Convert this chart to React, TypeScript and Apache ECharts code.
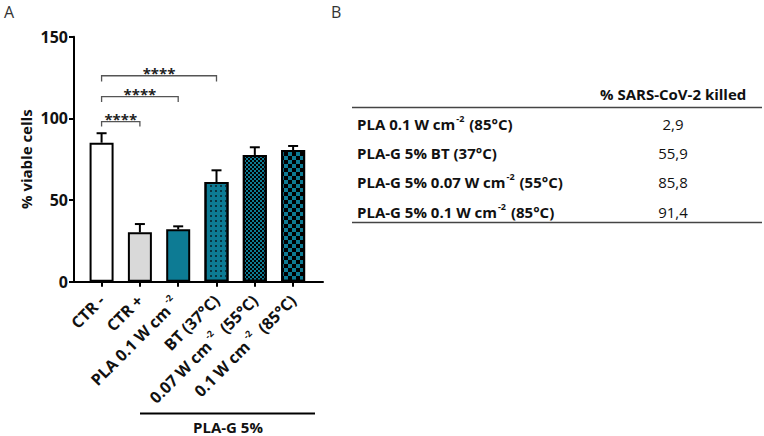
import React, { useEffect, useRef } from "react";
import * as echarts from "echarts";

const categories = ["CTR -", "CTR +", "PLA 0.1 W cm-2", "BT (37°C)", "0.07 W cm-2 (55°C)", "0.1 W cm-2 (85°C)"];
const viable = [85.1, 30.2, 32.1, 61.0, 77.6, 80.6];
const errTop = [90.9, 35.3, 33.9, 68.2, 82.3, 83.1];
const yTicks = [0, 50, 100, 150];

const bracketFrom = [0, 0, 0];
const bracketTo = [1, 2, 3];
const bracketY = [98, 113.3, 126.1];
const bracketEnd = [95, 110, 122.5];
const bracketLabel = ["****", "****", "****"];

const groupLabel = "PLA-G 5%";

const tableHeader = "% SARS-CoV-2 killed";
const tableRows = ["PLA 0.1 W cm-2 (85°C)", "PLA-G 5% BT (37°C)", "PLA-G 5% 0.07 W cm-2 (55°C)", "PLA-G 5% 0.1 W cm-2 (85°C)"];
const tableValues = ["2,9", "55,9", "85,8", "91,4"];

const FONT = "'Open Sans', sans-serif";
const TEAL = "#0d7b94";

const withSup = (s: string) => s.replace(/cm-2/g, "cm{sup|-2}");

export default function App() {
  const ref = useRef<HTMLDivElement>(null);
  useEffect(() => {
    if (!ref.current) return;
    const chart = echarts.init(ref.current, null, { renderer: "svg" });
    const styles = [
      { color: "#ffffff" },
      { color: "#d9d9d9" },
      { color: TEAL },
      {
        color: TEAL,
        decal: { symbol: "rect", symbolSize: 1, color: "#0a3440", dashArrayX: [1.4, 2.6], dashArrayY: [1.4, 2.6], rotation: 0 },
      },
      {
        color: TEAL,
        decal: { symbol: "rect", symbolSize: 1, color: "#000000", dashArrayX: [[2, 2], [0, 2, 2, 0]], dashArrayY: [2, 0], rotation: 0 },
      },
      {
        color: TEAL,
        decal: { symbol: "rect", symbolSize: 1, color: "#000000", dashArrayX: [[4, 4], [0, 4, 4, 0]], dashArrayY: [4, 0], rotation: 0 },
      },
    ];
    const idx = categories.map((_, i) => i);
    const tableGraphics: any[] = [];
    tableRows.forEach((r, i) => {
      const y = 123.5 + i * 29.4;
      tableGraphics.push({
        type: "text",
        x: 357,
        y,
        style: {
          text: withSup(r),
          font: `bold 15px ${FONT}`,
          fill: "#111",
          lineHeight: 20,
          verticalAlign: "middle",
          align: "left",
          rich: { sup: { fontSize: 9, fontWeight: "bold", lineHeight: 11, verticalAlign: "top", fontFamily: FONT, padding: [0, 1, 0, 1] } },
        },
      });
      tableGraphics.push({
        type: "text",
        x: 673,
        y,
        style: { text: tableValues[i], font: `15px ${FONT}`, fill: "#111", align: "center", verticalAlign: "middle" },
      });
    });

    chart.setOption({
      animation: false,
      grid: { left: 74, top: 36.7, width: 249, height: 245 },
      xAxis: {
        type: "value",
        min: -0.72,
        max: 5.78,
        splitLine: { show: false },
        axisLine: { show: true, onZero: false, lineStyle: { color: "#000", width: 2 } },
        axisTick: { show: true, customValues: idx, length: 5, lineStyle: { color: "#000", width: 2 } },
        axisLabel: {
          customValues: idx,
          rotate: 45,
          margin: 16,
          formatter: (v: number) => withSup(categories[Math.round(v)] ?? ""),
          fontFamily: FONT,
          fontWeight: "bold",
          fontSize: 16,
          lineHeight: 22,
          color: "#111",
          rich: { sup: { fontSize: 9, fontWeight: "bold", fontFamily: FONT, lineHeight: 10, verticalAlign: "top", padding: [0, 4, 0, 3] } },
        },
      },
      yAxis: {
        type: "value",
        min: 0,
        max: 150,
        interval: 50,
        splitLine: { show: false },
        axisLine: { show: true, onZero: false, lineStyle: { color: "#000", width: 2 } },
        axisTick: { show: true, length: 5, lineStyle: { color: "#000", width: 2 } },
        axisLabel: { fontFamily: FONT, fontWeight: "bold", fontSize: 16, color: "#111", margin: 6, formatter: (v: number) => (yTicks.includes(v) ? String(v) : "") },
        name: "% viable cells",
        nameLocation: "middle",
        nameRotate: 90,
        nameGap: 41,
        nameTextStyle: { fontFamily: FONT, fontWeight: "bold", fontSize: 15, color: "#111" },
      },
      series: [
        {
          type: "bar",
          barWidth: 24,
          z: 2,
          data: viable.map((v, i) => ({
            value: [i, v],
            itemStyle: { ...styles[i], borderColor: "#000", borderWidth: 2 },
          })),
        },
        {
          type: "custom",
          z: 3,
          data: viable.map((v, i) => [i, v, errTop[i]]),
          renderItem: (params: any, api: any) => {
            const x = api.value(0);
            const p0 = api.coord([x, api.value(1)]);
            const p1 = api.coord([x, api.value(2)]);
            return {
              type: "group",
              children: [
                { type: "line", shape: { x1: p0[0], y1: p0[1], x2: p1[0], y2: p1[1] }, style: { stroke: "#000", lineWidth: 2 } },
                { type: "line", shape: { x1: p1[0] - 5, y1: p1[1], x2: p1[0] + 5, y2: p1[1] }, style: { stroke: "#000", lineWidth: 2 } },
              ],
            };
          },
        },
        {
          type: "custom",
          z: 3,
          data: bracketFrom.map((f, i) => [f, bracketTo[i], bracketY[i], bracketEnd[i]]),
          renderItem: (params: any, api: any) => {
            const a = api.coord([api.value(0), api.value(2)]);
            const b = api.coord([api.value(1), api.value(2)]);
            const e = api.coord([api.value(0), api.value(3)]);
            return {
              type: "group",
              children: [
                {
                  type: "polyline",
                  shape: { points: [[a[0], e[1]], [a[0], a[1]], [b[0], b[1]], [b[0], e[1]]] },
                  style: { stroke: "#555", lineWidth: 1.3, fill: null },
                },
                {
                  type: "text",
                  x: (a[0] + b[0]) / 2,
                  y: a[1] - 3,
                  style: { text: bracketLabel[params.dataIndex], font: `bold 15px ${FONT}`, fill: "#222", align: "center", verticalAlign: "middle" },
                },
              ],
            };
          },
        },
      ],
      graphic: [
        { type: "text", x: 4, y: 12, style: { text: "A", font: `16px ${FONT}`, fill: "#333", verticalAlign: "middle" } },
        { type: "text", x: 331, y: 12, style: { text: "B", font: `16px ${FONT}`, fill: "#333", verticalAlign: "middle" } },
        { type: "line", shape: { x1: 140, y1: 413.5, x2: 315, y2: 413.5 }, style: { stroke: "#000", lineWidth: 2 } },
        { type: "text", x: 228, y: 427, style: { text: groupLabel, font: `bold 15px ${FONT}`, fill: "#111", align: "center", verticalAlign: "middle" } },
        { type: "text", x: 600, y: 94, style: { text: tableHeader, font: `bold 15px ${FONT}`, fill: "#111", verticalAlign: "middle" } },
        { type: "line", shape: { x1: 352, y1: 107.5, x2: 762, y2: 107.5 }, style: { stroke: "#444", lineWidth: 1.5 } },
        { type: "line", shape: { x1: 352, y1: 222.5, x2: 762, y2: 222.5 }, style: { stroke: "#444", lineWidth: 1.5 } },
        ...tableGraphics,
      ],
    });
    return () => chart.dispose();
  }, []);
  return <div ref={ref} style={{ position: "absolute", left: 0, top: 0, width: 764, height: 436, background: "#fff" }} />;
}
